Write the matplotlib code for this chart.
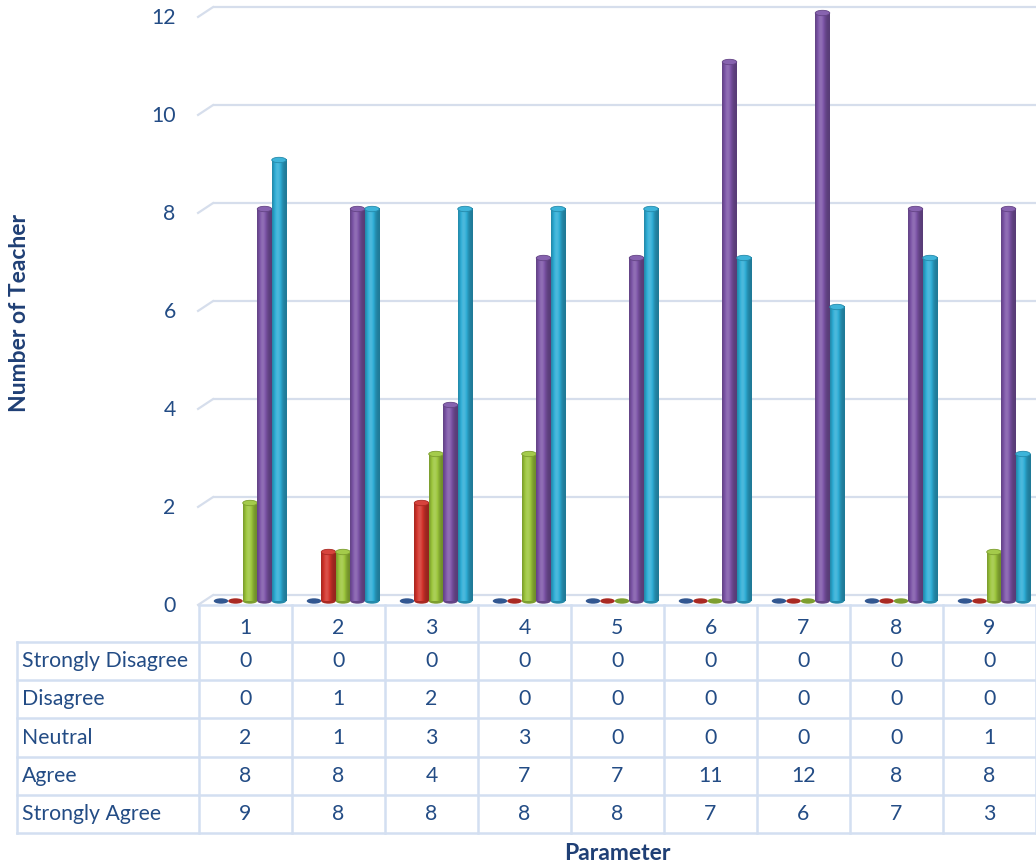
import numpy as np
import matplotlib
matplotlib.use("Agg")
import matplotlib.pyplot as plt
from matplotlib.patches import Ellipse
from matplotlib.colors import to_rgb

# ---- data ----
params = ["1", "2", "3", "4", "5", "6", "7", "8", "9"]
series_names = ["Strongly Disagree", "Disagree", "Neutral", "Agree", "Strongly Agree"]
strongly_disagree = [0, 0, 0, 0, 0, 0, 0, 0, 0]
disagree = [0, 1, 2, 0, 0, 0, 0, 0, 0]
neutral = [2, 1, 3, 3, 0, 0, 0, 0, 1]
agree = [8, 8, 4, 7, 7, 11, 12, 8, 8]
strongly_agree = [9, 8, 8, 8, 8, 7, 6, 7, 3]
series_values = [strongly_disagree, disagree, neutral, agree, strongly_agree]
yticks = [0, 2, 4, 6, 8, 10, 12]

# ---- styling ----
colors = ["#3E6DB5", "#D3332B", "#9CC63B", "#7D55A8", "#2DADD6"]
text_color = "#234C85"
title_color = "#1F3F75"
grid_color = "#D6DEEC"
table_color = "#D3DFF1"
FONT = "Lato"
FS = 15.3

W, H, DPI = 1036, 867, 100
fig = plt.figure(figsize=(W / DPI, H / DPI), dpi=DPI)

# layout (pixels)
X0, CW, NCAT = 199, 93, len(params)
Y0, PXU = 601, 49
ymin, ymax = -0.3, 12.25

# overlay in pixel coordinates for the data table and titles
tab = fig.add_axes([0, 0, 1, 1])
tab.set_xlim(0, W)
tab.set_ylim(H, 0)
tab.axis("off")
tab.patch.set_visible(False)

ax = fig.add_axes([X0 / W, (H - (Y0 - ymin * PXU)) / H,
                   NCAT * CW / W, (ymax - ymin) * PXU / H])
ax.axis("off")
ax.patch.set_visible(False)

# back-wall gridlines with a short perspective stub at the left
back_dx, back_dy, front_dy = 0.15, 0.12, -0.08
for v in yticks:
    ax.plot([back_dx, NCAT], [v + back_dy] * 2, color=grid_color, lw=1.6,
            zorder=1, clip_on=False, solid_capstyle="butt")
    ax.plot([-0.01, back_dx], [v + front_dy, v + back_dy], color=grid_color,
            lw=1.6, zorder=1, clip_on=False)
    ax.text(-0.25, v - 0.1, str(v), ha="right", va="center", fontsize=FS,
            color=text_color, family=FONT)


def shade(base, f):
    base = np.array(base)
    if f <= 1:
        return base * f
    return base + (1 - base) * (f - 1)


t = np.linspace(0, 1, 40)
profile = 0.7 + 0.45 * np.exp(-((t - 0.38) / 0.3) ** 2)

bar_w = 14.5 / CW
offsets = [(22 + 14.5 * j) / CW for j in range(len(series_values))]
cap_h = 0.11

for j, vals in enumerate(series_values):
    base = to_rgb(colors[j])
    grad = np.array([shade(base, f) for f in profile])[None, :, :]
    for i, v in enumerate(vals):
        xc = i + offsets[j]
        z = 3 + j
        # rounded bottom of the cylinder
        ax.add_patch(Ellipse((xc, 0), bar_w, cap_h, facecolor=shade(base, 0.8),
                             edgecolor="none", zorder=z))
        if v > 0:
            ax.imshow(grad, extent=[xc - bar_w / 2, xc + bar_w / 2, 0, v],
                      aspect="auto", zorder=z, interpolation="bilinear")
            ax.add_patch(Ellipse((xc, v), bar_w, cap_h, facecolor=shade(base, 1.08),
                                 edgecolor=shade(base, 0.8), lw=0.6, zorder=z + 0.1))

ax.set_xlim(0, NCAT)
ax.set_ylim(ymin, ymax)

# ---- data table ----
TOP, HDR_BOT, ROWH = 605, 642, 38.2
LEFT = 17
nrows = len(series_names)
bottom = HDR_BOT + ROWH * nrows
lw = 1.8
tab.plot([X0, W], [TOP, TOP], color=table_color, lw=lw)
for k in range(nrows + 1):
    y = HDR_BOT + ROWH * k
    tab.plot([LEFT, W], [y, y], color=table_color, lw=lw)
tab.plot([LEFT, LEFT], [HDR_BOT, bottom], color=table_color, lw=lw)
for i in range(NCAT + 1):
    x = X0 + CW * i
    tab.plot([x, x], [TOP, bottom], color=table_color, lw=lw)

for i, p in enumerate(params):
    xc = X0 + CW * (i + 0.5)
    tab.text(xc, (TOP + HDR_BOT) / 2 + 5, p, ha="center", va="center",
             fontsize=FS, color=text_color, family=FONT)
    for r, vals in enumerate(series_values):
        yc = HDR_BOT + ROWH * (r + 0.5)
        tab.text(xc, yc, str(vals[i]), ha="center", va="center",
                 fontsize=FS, color=text_color, family=FONT)

for r, name in enumerate(series_names):
    yc = HDR_BOT + ROWH * (r + 0.5)
    tab.text(LEFT + 5, yc, name, ha="left", va="center", fontsize=FS,
             color=text_color, family=FONT)

# axis titles
tab.text(20, 313, "Number of Teacher", rotation=90, ha="center", va="center",
         fontsize=16.5, fontweight="bold", color=title_color, family=FONT)
tab.text(617, 853, "Parameter", ha="center", va="center", fontsize=16.5,
         fontweight="bold", color=title_color, family=FONT)

fig.savefig("out.png", dpi=DPI)
